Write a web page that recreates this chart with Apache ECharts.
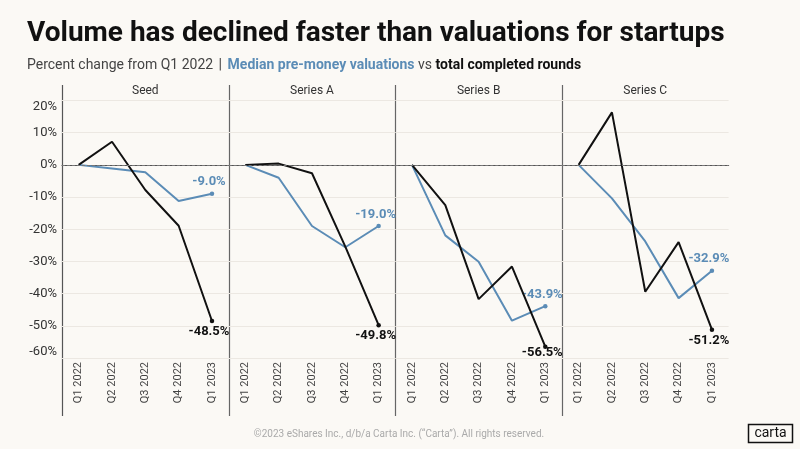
<!DOCTYPE html>
<html>
<head>
<meta charset="utf-8">
<script src="https://cdn.jsdelivr.net/npm/echarts@6/dist/echarts.min.js"></script>
<style>
  html, body { margin: 0; padding: 0; background: #fbf9f5; }
  #chart { width: 800px; height: 449px; }
</style>
</head>
<body>
<div id="chart"></div>
<script>
// ---- data ----
const categories = ['Q1 2022', 'Q2 2022', 'Q3 2022', 'Q4 2022', 'Q1 2023'];
const panels = ['Seed', 'Series A', 'Series B', 'Series C'];
const seedValuation    = [0, -1.1, -2.3, -11.2, -9.0];
const seedRounds       = [0, 7.2, -7.8, -18.9, -48.5];
const seriesAValuation = [0, -4.0, -19.0, -25.6, -19.0];
const seriesARounds    = [0, 0.4, -2.6, -25.4, -49.8];
const seriesBValuation = [0, -21.9, -30.1, -48.4, -43.9];
const seriesBRounds    = [0, -12.5, -41.7, -31.6, -56.5];
const seriesCValuation = [0, -10.4, -23.8, -41.4, -32.9];
const seriesCRounds    = [0, 16.3, -39.4, -24.0, -51.2];
const yMin = -60, yMax = 20, yStep = 10;

const valuationSets = [seedValuation, seriesAValuation, seriesBValuation, seriesCValuation];
const roundSets = [seedRounds, seriesARounds, seriesBRounds, seriesCRounds];

// ---- layout / style ----
const BLUE = '#5b8cb6';
const BLACK = '#111111';
const plotLeft = 62, plotRight = 728.6, plotTop = 100.5, plotBottom = 358;
const panelW = (plotRight - plotLeft) / panels.length;
const sepTop = 85, sepBottom = 416;
const FONT = 'Roboto, "Noto Sans", sans-serif';

const chart = echarts.init(document.getElementById('chart'), null, { renderer: 'canvas' });

const grids = [], xAxes = [], yAxes = [], series = [], graphics = [];

function fmt(v) { return v.toFixed(1) + '%'; }

function buildData(values, labelCfg) {
  return values.map((v, i) => {
    if (i === values.length - 1) {
      return { value: v, symbol: 'circle', symbolSize: 4.5, label: Object.assign({ show: true, formatter: p => fmt(p.value) }, labelCfg) };
    }
    return { value: v, symbol: 'none' };
  });
}

panels.forEach((name, k) => {
  const left = plotLeft + panelW * k;
  grids.push({ left: left, top: plotTop, width: panelW, height: plotBottom - plotTop });
  xAxes.push({
    type: 'category', gridIndex: k, data: categories, boundaryGap: true,
    axisLine: { show: true, lineStyle: { color: '#555', width: 1.2 } },
    axisTick: { show: false },
    axisLabel: { rotate: 90, margin: 4, fontSize: 11, color: '#444', fontFamily: FONT, interval: 0 }
  });
  yAxes.push({
    type: 'value', gridIndex: k, min: yMin, max: yMax, interval: yStep,
    axisLine: { show: false }, axisTick: { show: false },
    axisLabel: {
      show: k === 0, formatter: v => v + '%', fontSize: 13, color: '#333', fontFamily: FONT, margin: 5,
      verticalAlignMaxLabel: 'top', verticalAlignMinLabel: 'bottom'
    },
    splitLine: { show: true, lineStyle: { color: '#ece8e2', width: 1 } }
  });
  const lastRound = roundSets[k][roundSets[k].length - 1];
  const blackDist = (lastRound < -54) ? -2.5 : 2;
  series.push({
    type: 'line', xAxisIndex: k, yAxisIndex: k, name: 'Median pre-money valuations',
    data: buildData(valuationSets[k], { position: 'top', distance: 3, offset: [-3, 0], color: BLUE, fontWeight: 'bold', fontSize: 13, fontFamily: FONT }),
    lineStyle: { color: BLUE, width: 2 }, itemStyle: { color: BLUE },
    symbol: 'circle', symbolSize: 4.5, animation: false, z: 2,
    markLine: {
      silent: true, symbol: 'none', label: { show: false },
      lineStyle: { color: '#777', type: [3, 2], width: 1 },
      data: [{ yAxis: 0 }], animation: false
    }
  });
  series.push({
    type: 'line', xAxisIndex: k, yAxisIndex: k, name: 'Total completed rounds',
    data: buildData(roundSets[k], { position: 'bottom', distance: blackDist, offset: [-3, 0], color: BLACK, fontWeight: 'bold', fontSize: 13, fontFamily: FONT }),
    lineStyle: { color: BLACK, width: 2 }, itemStyle: { color: BLACK },
    symbol: 'circle', symbolSize: 4.5, animation: false, z: 3
  });
  // panel header
  graphics.push({
    type: 'text', x: left + panelW / 2, y: 91, silent: true,
    style: { text: name, fill: '#333', font: '12px ' + FONT, textAlign: 'center', textVerticalAlign: 'middle' }
  });
});

// separators between panels (and left edge)
for (let k = 0; k < panels.length; k++) {
  const x = Math.round(plotLeft + panelW * k) + 0.5;
  graphics.push({
    type: 'line', silent: true,
    shape: { x1: x, y1: sepTop, x2: x, y2: sepBottom },
    style: { stroke: k === 0 ? '#555' : '#666', lineWidth: 1.2 }
  });
}

// footer
graphics.push({
  type: 'text', x: 399, y: 434, silent: true,
  style: { text: '©2023 eShares Inc., d/b/a Carta Inc. (“Carta”). All rights reserved.', fill: '#aaa', font: '10px ' + FONT, textAlign: 'center', textVerticalAlign: 'middle' }
});
graphics.push({
  type: 'rect', silent: true,
  shape: { x: 748.5, y: 424.5, width: 44, height: 18 },
  style: { fill: 'none', stroke: '#111', lineWidth: 1.5 }
});
graphics.push({
  type: 'text', x: 770.5, y: 433, silent: true,
  style: { text: 'carta', fill: '#111', font: '14px ' + FONT, textAlign: 'center', textVerticalAlign: 'middle' }
});

const option = {
  backgroundColor: '#fbf9f5',
  animation: false,
  title: {
    left: 22, top: 15,
    text: 'Volume has declined faster than valuations for startups',
    textStyle: { fontSize: 28, fontWeight: 'bold', color: '#111', fontFamily: FONT },
    subtext: '{a|Percent change from Q1 2022 }{sep||}{b| Median pre-money valuations}{a| vs }{c|total completed rounds}',
    itemGap: 10,
    subtextStyle: {
      rich: {
        a: { fontSize: 14, color: '#444', fontFamily: FONT },
        sep: { fontSize: 14.5, color: '#444', fontFamily: FONT, padding: [0, 2, 0, 2] },
        b: { fontSize: 14, color: BLUE, fontWeight: 'bold', fontFamily: FONT },
        c: { fontSize: 14, color: '#111', fontWeight: 'bold', fontFamily: FONT }
      }
    }
  },
  grid: grids,
  xAxis: xAxes,
  yAxis: yAxes,
  series: series,
  graphic: graphics
};
chart.setOption(option);
</script>
</body>
</html>
